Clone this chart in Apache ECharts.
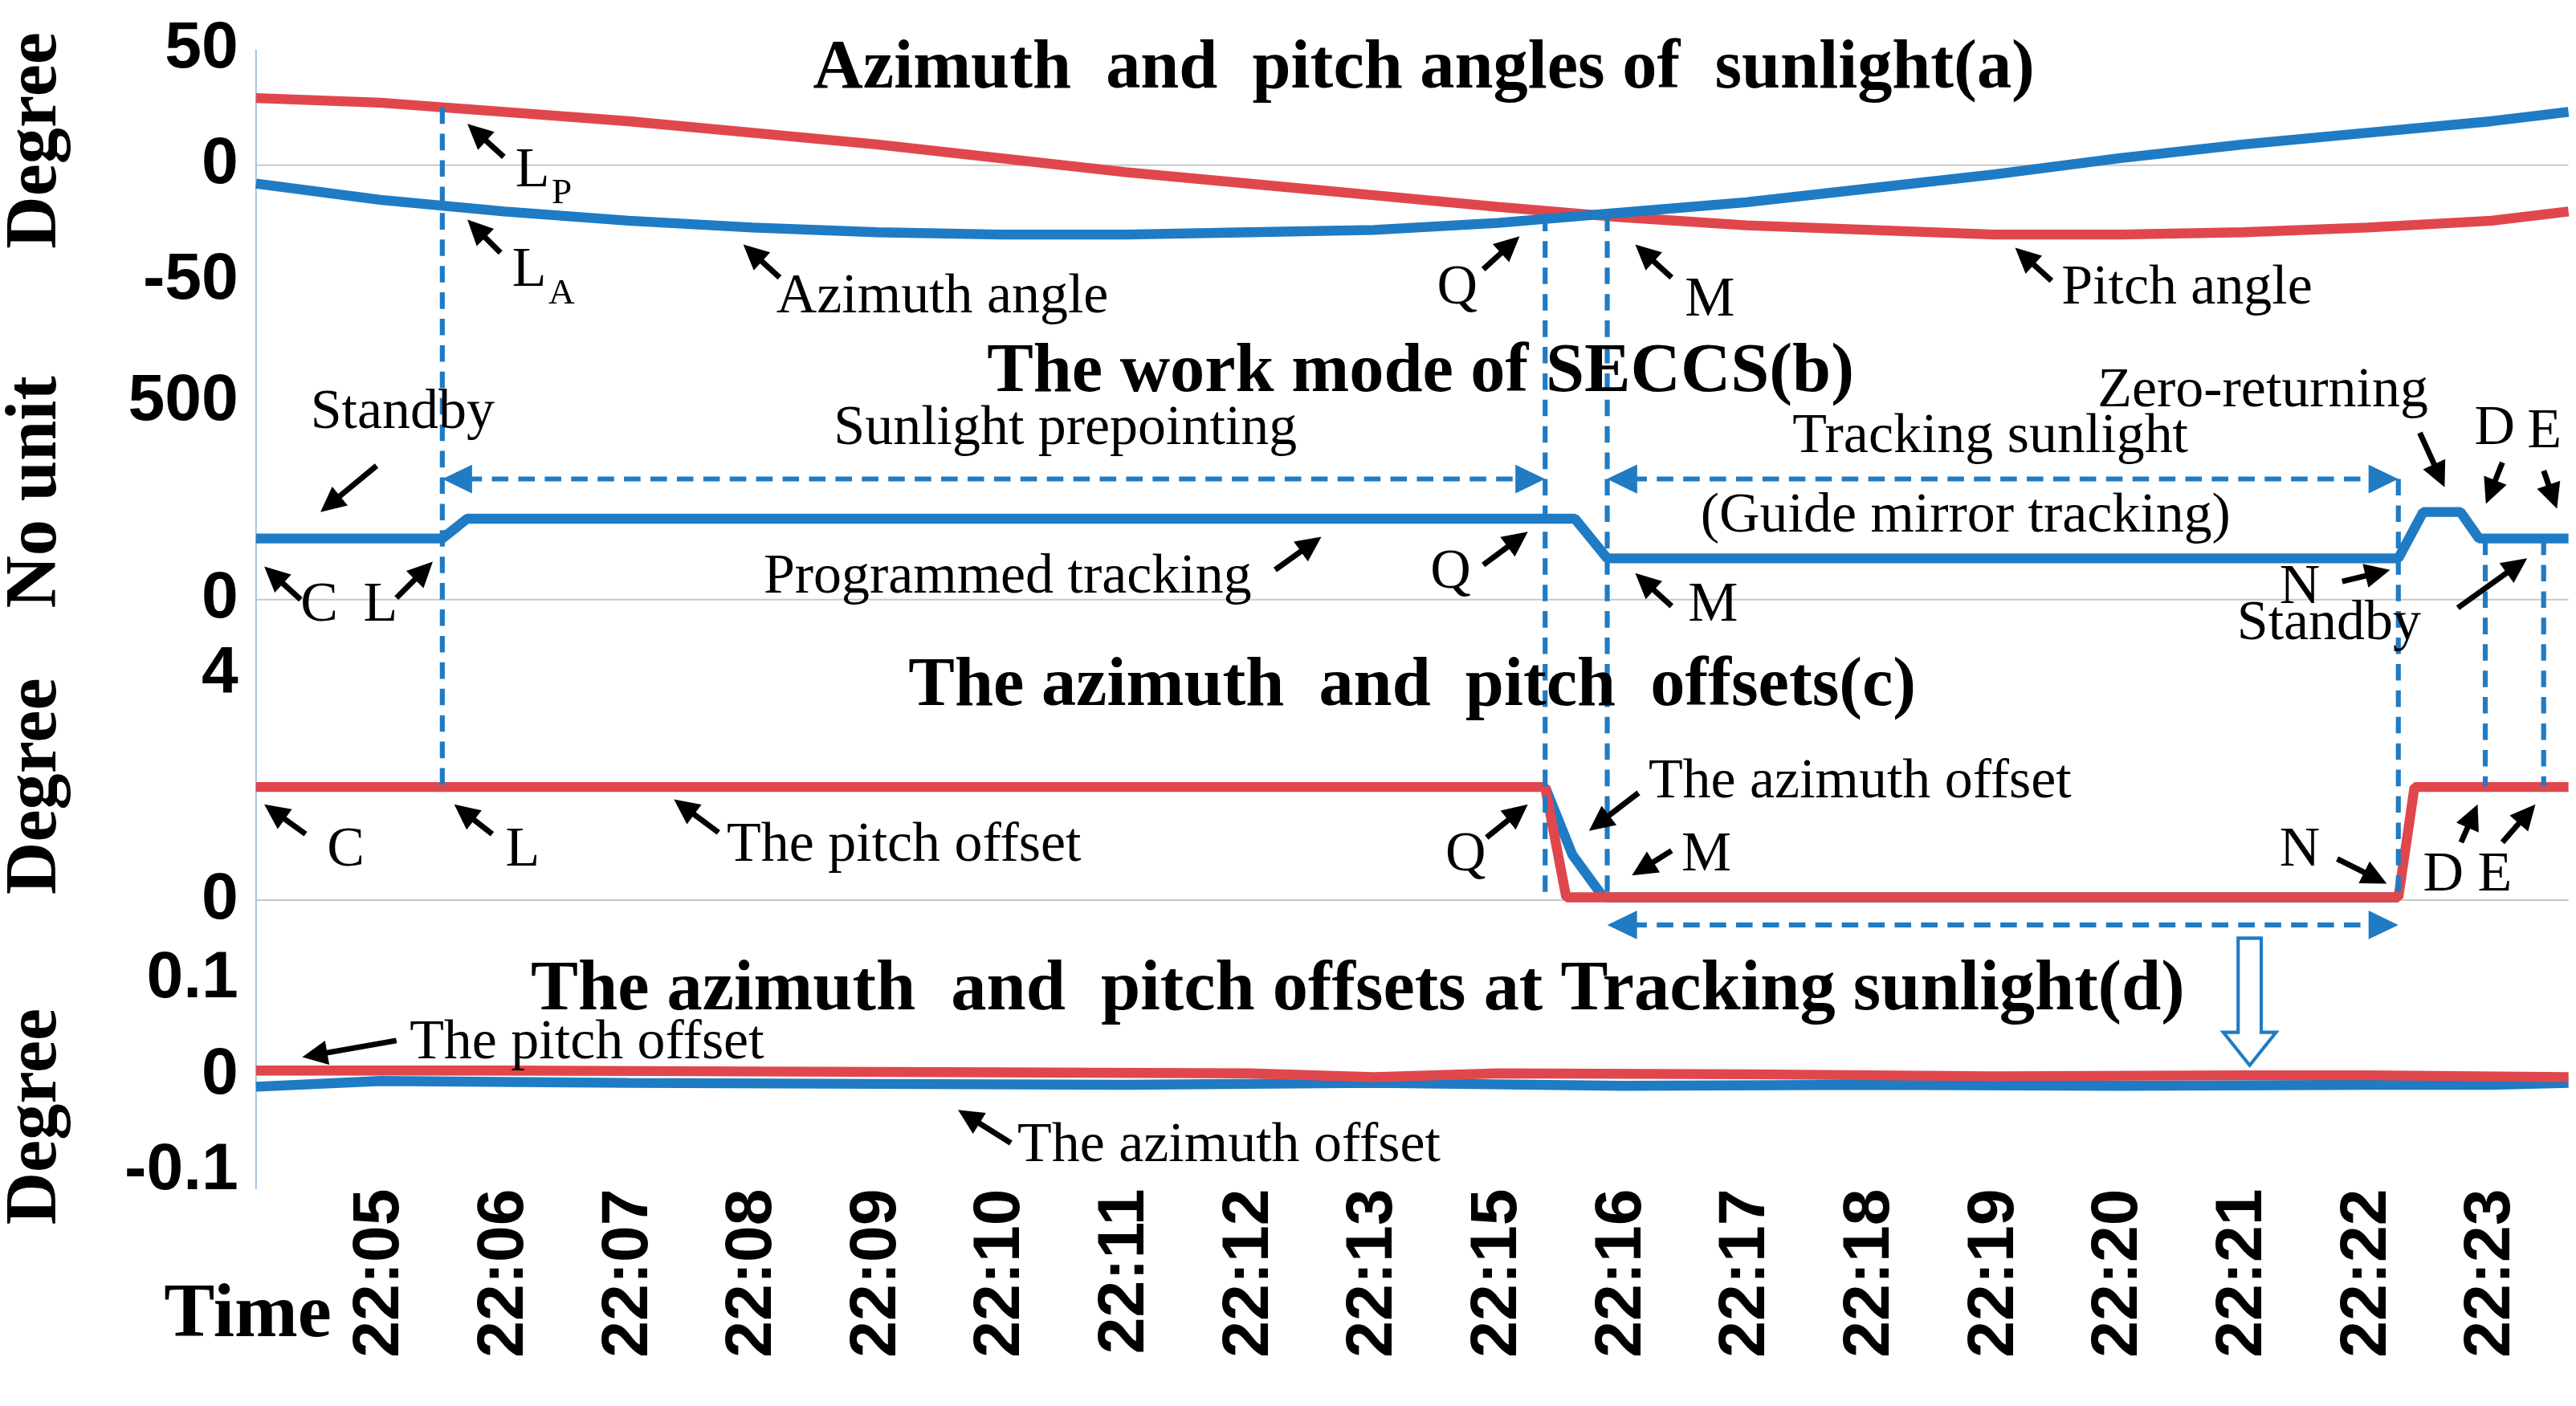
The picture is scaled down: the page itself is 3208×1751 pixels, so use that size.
<!DOCTYPE html>
<html><head><meta charset="utf-8">
<script src="https://cdn.jsdelivr.net/npm/echarts@6/dist/echarts.min.js"></script>
<style>html,body{margin:0;padding:0;background:#fff}#c{width:3208px;height:1751px}</style>
</head><body><div id="c"></div>
<script>
const S = 2.057;
const RED = '#E0474C', BLUE = '#1F7BC4';
// x positions are label slots (tick labels evenly spaced; 22:14 is absent in the original)
const timeLabels = ['22:05','22:06','22:07','22:08','22:09','22:10','22:11','22:12','22:13','22:15','22:16','22:17','22:18','22:19','22:20','22:21','22:22','22:23'];
const tickSlots = [0,1,2,3,4,5,6,7,8,9,10,11,12,13,14,15,16,17];
const pitchA = [[-1,29],[0,27],[1,23],[2,19],[3,14],[4,9],[5,3],[6,-3],[7,-8],[8,-13],[9,-18],[9.88,-22],[10,-22.5],[11,-26],[12,-28],[13,-30],[14,-30],[15,-29],[16,-27],[17,-24],[17.62,-20]];
const azimA = [[-1,-8],[0,-15],[1,-20],[2,-24],[3,-27],[4,-29],[5,-30],[6,-30],[7,-29],[8,-28],[9,-25],[9.88,-21],[10,-20.5],[11,-16],[12,-10],[13,-4],[14,3],[15,9],[16,14],[17,19],[17.62,23]];
const modeB = [[-1,154],[0.5,154],[0.7,204],[9.62,204],[9.88,104],[16.25,104],[16.45,221],[16.75,221],[16.9,154],[17.62,154]];
const pitchC = [[-1,2],[9.38,2],[9.55,0.05],[16.25,0.05],[16.38,2],[17.62,2]];
const azimC = [[9.38,2],[9.6,0.8],[9.85,0.05],[16.25,0.05]];
const pitchD = [[-1,0.005],[1,0.005],[3,0.004],[5,0.003],[7,0.002],[8,-0.002],[9,0.002],[11,0.001],[13,-0.001],[15,0],[16,0],[17.62,-0.002]];
const azimD = [[-1,-0.012],[0,-0.006],[2,-0.008],[4,-0.009],[6,-0.01],[8,-0.008],[10,-0.011],[12,-0.01],[14,-0.011],[16,-0.01],[17,-0.01],[17.62,-0.008]];
const events = {L:0.5, Q:9.38, M:9.88, N:16.25, D:16.95, E:17.42};

const chart = echarts.init(document.getElementById('c'));
const L = 155*S, R = 3208-1555*S;
const panels = [[30,170,-50,50,50],[243,363,0,500,500],[408,545,0,4,4],[593,709,-0.1,0.1,0.1]];
const grids = panels.map(p=>({left:L, right:R, top:p[0]*S, height:(p[1]-p[0])*S}));
const xAxes = panels.map((p,i)=>({type:'value', gridIndex:i, min:-1, max:17.62,
  axisLine:{show:false}, axisTick:{show:false}, splitLine:{show:false},
  axisLabel: i===3 ? {show:true, rotate:90, customValues:tickSlots, margin:22, fontSize:40*S, fontWeight:'bold', fontFamily:'Liberation Sans', color:'#000', formatter:v=>timeLabels[Math.round(v)]} : {show:false}}));
const yAxes = panels.map((p,i)=>({type:'value', gridIndex:i, min:p[2], max:p[3], interval:p[4],
  axisLine:{show:false}, axisTick:{show:false}, splitLine:{show:false},
  axisLabel:{fontSize:40*S, fontWeight:'bold', fontFamily:'Liberation Sans', color:'#000', margin:22, formatter:v=>String(v)}}));
function ser(data,i,color){return {type:'line', xAxisIndex:i, yAxisIndex:i, data, showSymbol:false, smooth:false, lineStyle:{color, width:6*S}, itemStyle:{color}, z:3};}
chart.setOption({animation:false, grid:grids, xAxis:xAxes, yAxis:yAxes,
  series:[ser(pitchA,0,RED),ser(azimA,0,BLUE),ser(modeB,1,BLUE),ser(azimC,2,BLUE),ser(pitchC,2,RED),ser(azimD,3,BLUE),ser(pitchD,3,RED)]});

const g = [];
const X = t=>chart.convertToPixel({xAxisIndex:0}, t);
const Yp = (i,v)=>chart.convertToPixel({yAxisIndex:i}, v);
[0,1,2,3].forEach(i=>g.push({type:'line',shape:{x1:L,y1:Yp(i,0),x2:3208-R,y2:Yp(i,0)},style:{stroke:'#c8c8c8',lineWidth:2},z:1}));
g.push({type:'line',shape:{x1:L,y1:30*S,x2:L,y2:720*S},style:{stroke:'#9cc3e6',lineWidth:2},z:1});
function txt(s,x,y,opt={}){g.push({type:'text',x:x*S,y:y*S,z:10,style:Object.assign({text:s,fill:'#000',font:`${(opt.size||34)*S}px "Liberation Serif"`,align:opt.align||'left',verticalAlign:'middle'},opt.st||{}),rotation:opt.rot||0});}
function bold(s,x,y,size){txt(s,x,y,{size,align:'center',st:{font:`bold ${size*S}px "Liberation Serif"`}});}
function head(x2,y2,ang,color,sz){const a=0.45;return {type:'polygon',z:10,shape:{points:[[x2,y2],[x2-sz*Math.cos(ang-a),y2-sz*Math.sin(ang-a)],[x2-sz*Math.cos(ang+a),y2-sz*Math.sin(ang+a)]]},style:{fill:color}};}
function arrow(x1,y1,x2,y2){x1*=S;y1*=S;x2*=S;y2*=S;const ang=Math.atan2(y2-y1,x2-x1);
  g.push({type:'line',z:10,shape:{x1,y1,x2:x2-8*Math.cos(ang),y2:y2-8*Math.sin(ang)},style:{stroke:'#000',lineWidth:3.4*S}});
  g.push(head(x2,y2,ang,'#000',17*S));}
function vdash(t,y1,y2){const x=X(t);g.push({type:'line',z:5,shape:{x1:x,y1:y1*S,x2:x,y2:y2*S},style:{stroke:BLUE,lineWidth:3*S,lineDash:[10*S,6*S]}});}
function hdash(t1,t2,y){const x1=X(t1),x2=X(t2);y*=S;g.push({type:'line',z:5,shape:{x1:x1+14*S,y1:y,x2:x2-14*S,y2:y},style:{stroke:BLUE,lineWidth:3*S,lineDash:[10*S,6*S]}});
  g.push(head(x1,y,Math.PI,BLUE,20*S));g.push(head(x2,y,0,BLUE,20*S));}
vdash(events.L,65,476);vdash(events.Q,130,545);vdash(events.M,130,545);vdash(events.N,290,545);vdash(events.D,326,476);vdash(events.E,326,476);
hdash(events.L,events.Q,290);hdash(events.M,events.N,290);hdash(events.M,events.N,560);
g.push(head(X(events.M),290*S,Math.PI,BLUE,20*S));
{const x=1362*S;const p=[[x-7*S,568*S],[x+7*S,568*S],[x+7*S,625*S],[x+16*S,625*S],[x,645*S],[x-16*S,625*S],[x-7*S,625*S]];g.push({type:'polygon',z:10,shape:{points:p},style:{fill:'#fff',stroke:BLUE,lineWidth:2*S}});}
bold('Azimuth  and  pitch angles of  sunlight(a)',862,42,42);
bold('The work mode of SECCS(b)',860,226,42);
bold('The azimuth  and  pitch  offsets(c)',855,416,42);
bold('The azimuth  and  pitch offsets at Tracking sunlight(d)',822,600,43);
[['Degree',22,85],['No unit',22,298],['Degree',22,476],['Degree',22,676]].forEach(([s,x,y])=>txt(s,x,y,{align:'center',rot:Math.PI/2,st:{font:`bold ${44*S}px "Liberation Serif"`}}));
txt('Time',150,797,{align:'center',st:{font:`bold ${46*S}px "Liberation Serif"`}});
// panel a
arrow(305,95,283,75);txt('L',312,104);txt('P',334,117,{size:22});
arrow(303,153,283,133);txt('L',310,164);txt('A',332,178,{size:22});
arrow(472,168,450,148);txt('Azimuth angle',470,180);
arrow(898,163,920,143);txt('Q',870,175);
arrow(1012,168,990,148);txt('M',1020,182);
arrow(1242,170,1220,150);txt('Pitch angle',1248,175);
// panel b
arrow(228,282,194,310);txt('Standby',188,250);
txt('Sunlight prepointing',645,260,{align:'center'});txt('Tracking sunlight',1205,265,{align:'center'});
txt('Zero-returning',1370,237,{align:'center'});txt('D',1498,260);txt('E',1530,262);
arrow(1465,262,1480,295);arrow(1515,280,1505,305);arrow(1540,285,1548,308);
txt('(Guide mirror tracking)',1190,313,{align:'center'});
arrow(182,363,160,343);txt('C',182,367);arrow(240,362,262,340);txt('L',220,367);
txt('Programmed tracking',610,350,{align:'center'});arrow(772,345,800,325);
arrow(898,342,925,322);txt('Q',866,347);
arrow(1012,367,990,347);txt('M',1022,367);
arrow(1418,352,1447,345);txt('N',1380,356);
txt('Standby',1410,378,{align:'center'});arrow(1488,368,1530,338);
// panel c
arrow(185,505,160,487);txt('C',198,515);
arrow(298,505,275,487);txt('L',306,515);
arrow(435,504,408,484);txt('The pitch offset',440,512);
arrow(900,507,925,487);txt('Q',875,518);
arrow(992,480,962,503);txt('The azimuth offset',998,474);
arrow(1012,515,988,530);txt('M',1018,518);
arrow(1415,520,1445,535);txt('N',1380,515);
arrow(1490,510,1500,487);txt('D',1467,530);
arrow(1515,510,1535,487);txt('E',1500,530);
// panel d
arrow(240,630,183,640);txt('The pitch offset',248,632);
arrow(612,692,580,672);txt('The azimuth offset',616,694);
chart.setOption({graphic:g});
</script></body></html>
